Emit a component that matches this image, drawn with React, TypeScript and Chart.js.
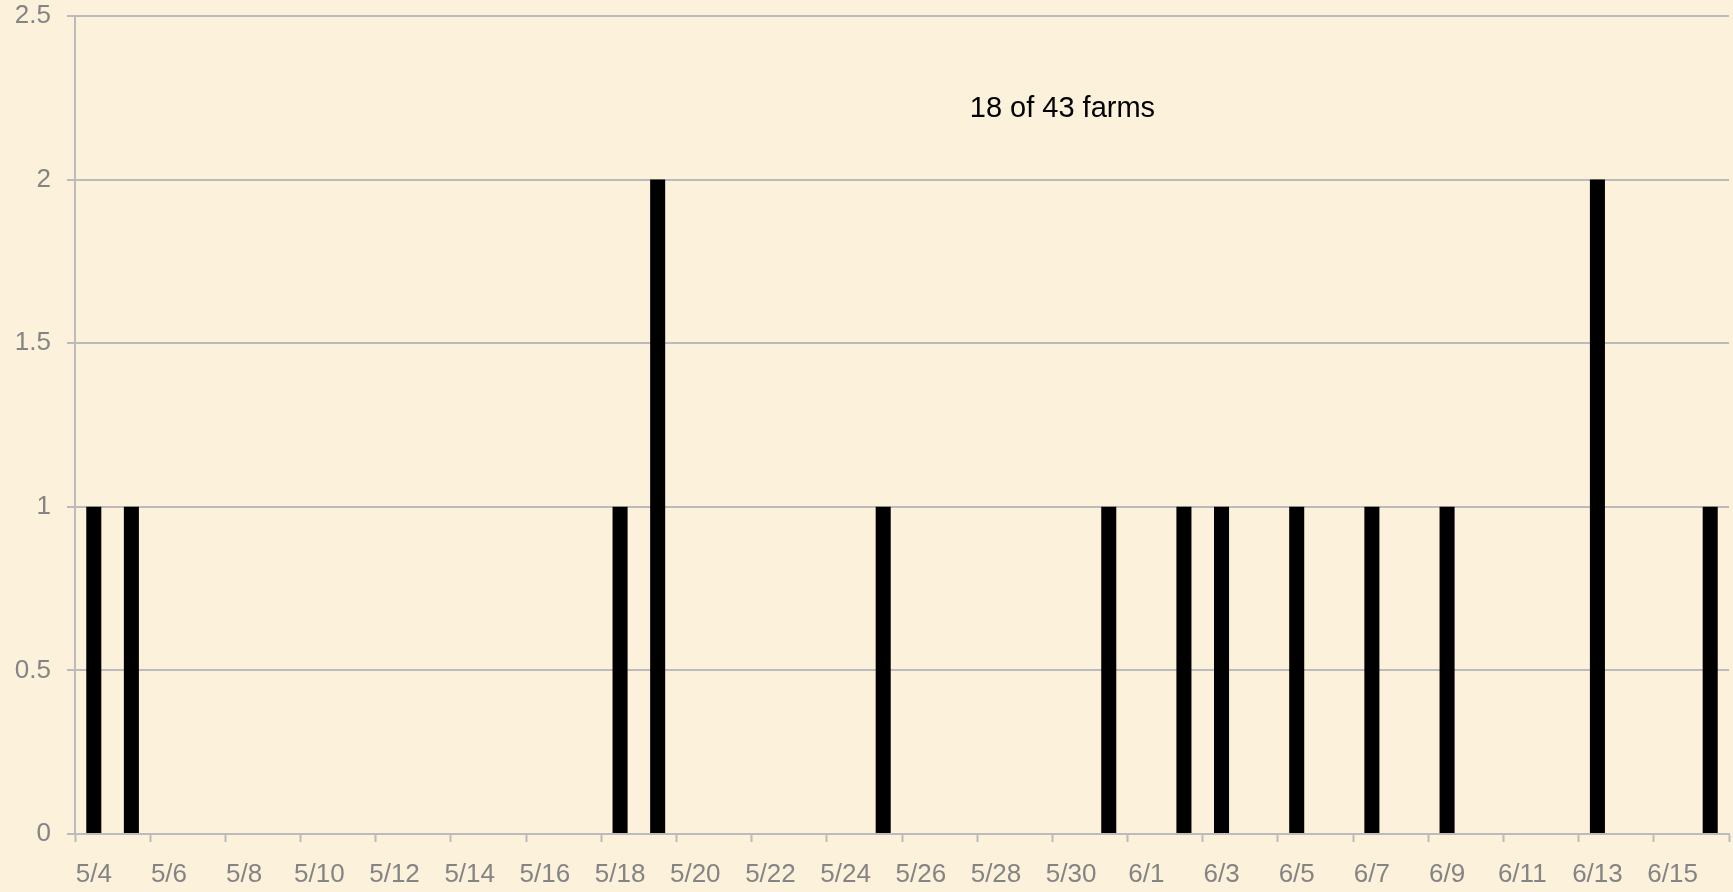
import React, { useEffect, useRef } from "react";
import { Chart, registerables } from "chart.js";

Chart.register(...registerables);

const categories = [
  "5/4", "5/5", "5/6", "5/7", "5/8", "5/9", "5/10", "5/11", "5/12", "5/13", "5/14",
  "5/15", "5/16", "5/17", "5/18", "5/19", "5/20", "5/21", "5/22", "5/23", "5/24",
  "5/25", "5/26", "5/27", "5/28", "5/29", "5/30", "5/31", "6/1", "6/2", "6/3",
  "6/4", "6/5", "6/6", "6/7", "6/8", "6/9", "6/10", "6/11", "6/12", "6/13",
  "6/14", "6/15", "6/16",
];

const farms = [
  1, 1, 0, 0, 0, 0, 0, 0, 0, 0, 0,
  0, 0, 0, 1, 2, 0, 0, 0, 0, 0,
  1, 0, 0, 0, 0, 0, 1, 0, 1, 1,
  0, 1, 0, 1, 0, 1, 0, 0, 0, 2,
  0, 0, 1,
];

const yTicks = [0, 0.5, 1, 1.5, 2, 2.5];
const noteText = "18 of 43 farms";

const BG = "#FCF1DB";
const GRID = "#BBBBBB";
const TICK_TEXT = "#848484";
const FONT = "'Liberation Sans', Arial, sans-serif";

const notePlugin = {
  id: "note",
  afterDraw(chart: any) {
    const { ctx, chartArea } = chart;
    const x = chartArea.left + (chartArea.right - chartArea.left) * 0.597;
    const y = chartArea.top + (chartArea.bottom - chartArea.top) * 0.1137;
    ctx.save();
    ctx.font = `29px ${FONT}`;
    ctx.fillStyle = "#000000";
    ctx.textAlign = "center";
    ctx.textBaseline = "middle";
    ctx.fillText(noteText, x, y);
    ctx.restore();
  },
};

const bgPlugin = {
  id: "bg",
  beforeDraw(chart: any) {
    const { ctx, width, height } = chart;
    ctx.save();
    ctx.fillStyle = BG;
    ctx.fillRect(0, 0, width, height);
    ctx.restore();
  },
};

export default function App() {
  const ref = useRef<HTMLCanvasElement | null>(null);

  useEffect(() => {
    if (!ref.current) return;
    const chart = new Chart(ref.current, {
      type: "bar",
      data: {
        labels: categories,
        datasets: [
          {
            data: farms,
            backgroundColor: "#000000",
            borderWidth: 0,
            barPercentage: 0.4,
            categoryPercentage: 1,
          },
        ],
      },
      plugins: [bgPlugin, notePlugin],
      options: {
        animation: false,
        responsive: false,
        devicePixelRatio: 1,
        layout: { padding: { top: 16, right: 4, left: 0, bottom: 0 } },
        plugins: {
          legend: { display: false },
          tooltip: { enabled: false },
          title: { display: false },
        },
        scales: {
          x: {
            type: "category",
            offset: true,
            grid: {
              offset: true,
              drawOnChartArea: false,
              drawTicks: true,
              tickLength: 8,
              tickWidth: 2,
              tickColor: (ctx: any) =>
                ctx.index === undefined || ctx.index % 2 === 0 ? GRID : "rgba(0,0,0,0)",
            },
            border: { display: true, color: GRID, width: 2 },
            ticks: {
              autoSkip: false,
              maxRotation: 0,
              minRotation: 0,
              padding: 17,
              color: TICK_TEXT,
              font: { family: FONT, size: 26, lineHeight: 1.2 },
              callback: (_v: any, i: number) => (i % 2 === 0 ? categories[i] : ""),
            },
            afterFit: (scale: any) => {
              scale.height = 58;
              scale.paddingLeft = 0;
              scale.paddingRight = 0;
            },
          },
          y: {
            min: 0,
            max: 2.5,
            afterBuildTicks: (scale: any) => {
              scale.ticks = yTicks.map((v) => ({ value: v }));
            },
            grid: {
              color: GRID,
              lineWidth: 2,
              drawTicks: true,
              tickLength: 8,
              tickColor: GRID,
            },
            border: { display: true, color: GRID, width: 2 },
            ticks: {
              padding: 16,
              color: TICK_TEXT,
              font: { family: FONT, size: 26 },
              callback: (v: any) => String(v),
            },
            afterFit: (scale: any) => {
              scale.width = 75;
              scale.paddingTop = 0;
              scale.paddingBottom = 0;
            },
          },
        },
      },
    });
    return () => chart.destroy();
  }, []);

  return (
    <div
      style={{
        position: "fixed",
        left: 0,
        top: 0,
        width: 1733,
        height: 892,
        background: BG,
      }}
    >
      <canvas ref={ref} width={1733} height={892} style={{ display: "block" }} />
    </div>
  );
}
